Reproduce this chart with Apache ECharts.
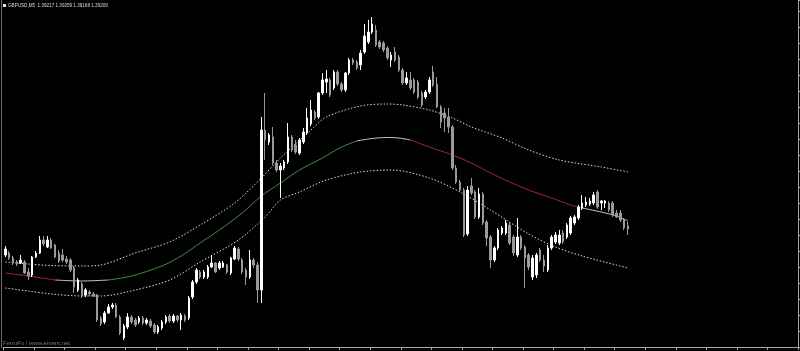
<!DOCTYPE html>
<html>
<head>
<meta charset="utf-8">
<script src="https://cdn.jsdelivr.net/npm/echarts@6/dist/echarts.min.js"></script>
<style>
html,body{margin:0;padding:0;background:#000;}
#chart{width:800px;height:351px;}
</style>
</head>
<body>
<div id="chart"></div>
<script>
// GBPUSD,M5 candles, levels (vertical chart units, 16 units = one price-scale step)
const barSlots = 208; // visible bar slots incl. empty right margin
const open  = [92,94,89,85,84,85,75,72,90,94,107,100,107,102,94,92,88,87,79,57,63,52,55,53,52,29,25,34,40,42,30,9,20,30,27,25,29,24,26,22,15,19,25,31,26,31,27,31,29,50,65,75,70,70,80,84,79,80,82,74,88,98,87,77,70,87,82,57,217,205,210,184,177,179,185,210,202,194,205,214,223,235,230,254,265,267,259,275,263,257,274,287,285,282,295,305,315,317,305,304,299,287,295,290,277,264,267,267,265,254,250,255,275,263,240,234,230,220,179,165,157,113,161,155,130,153,125,110,87,99,114,114,122,110,92,110,100,92,70,72,97,87,77,99,105,104,114,110,114,124,129,139,142,143,144,155,144,144,144,144,134,134,127,121];
const close = [98,89,84,83,87,74,71,90,94,107,103,107,99,90,86,87,85,77,60,67,51,57,53,51,27,23,34,40,42,30,14,21,30,25,22,29,24,27,21,15,20,25,30,26,31,27,32,27,49,65,77,70,75,80,84,75,84,84,75,89,99,88,75,70,87,82,57,217,207,212,184,177,181,185,210,197,195,207,215,229,237,229,254,267,268,252,275,263,257,274,287,284,279,294,311,315,323,302,300,297,289,292,287,277,264,269,259,255,250,242,255,267,262,240,225,229,220,179,165,157,112,157,154,130,153,124,109,87,99,117,119,124,104,94,110,99,89,80,89,92,87,81,99,110,112,112,105,122,129,130,140,144,145,146,152,140,146,146,137,132,130,127,119,118];
const low   = [90,87,82,81,83,73,67,70,89,93,101,99,98,89,84,85,83,75,54,55,49,50,51,50,25,21,23,33,38,29,12,7,18,23,20,23,22,22,19,13,13,17,23,24,24,25,17,25,27,48,63,68,68,68,79,74,77,79,73,72,87,86,73,62,68,79,44,44,187,202,182,175,149,177,183,195,193,192,203,212,221,227,228,252,254,250,257,261,255,255,272,282,277,277,293,303,313,300,298,295,287,280,285,275,262,262,257,253,248,240,248,253,260,239,219,215,214,177,163,155,110,111,152,128,128,122,101,79,85,97,112,112,102,91,90,97,59,77,67,69,85,75,75,97,103,102,103,108,112,122,127,137,140,141,142,138,137,139,135,130,129,125,117,112];
const high  = [101,96,91,87,92,87,79,91,96,111,111,111,109,103,97,98,91,89,81,69,65,59,57,55,53,31,36,43,44,44,32,23,34,32,29,31,31,29,28,24,22,27,32,33,33,32,34,33,51,67,79,77,77,82,92,85,86,86,83,90,101,100,89,79,97,89,85,230,254,214,220,187,184,187,224,212,207,209,219,239,247,237,255,274,277,269,277,277,265,275,289,289,287,297,323,327,330,322,307,306,301,295,300,292,279,275,275,269,267,256,257,270,281,270,242,239,239,222,182,167,159,161,169,157,159,155,127,112,101,119,121,127,125,112,129,112,102,94,92,94,99,92,102,112,115,117,117,124,131,132,142,152,150,149,155,157,147,147,146,146,137,137,129,125];

// moving average, coloured by slope state: [bar, level]
const maRedA   = [[0,74],[6,71],[13,67]];
const maGreyA  = [[13,67],[20,66],[27,67]];
const maGreen  = [[27,67],[33,71],[41,81],[46,91],[51,104],[56,117],[62,134],[67,151],[72,164],[77,177],[83,189],[88,200],[92,206]];
const maGreyB  = [[92,206],[96,208.5],[100,209.5],[103,209],[106,207]];
const maRedB   = [[106,207],[111,200],[117,192],[122,184],[127,174],[132,165],[137,157],[143,149],[148,142],[151,139]];
const maGreyC  = [[151,139],[156,135],[160,131],[163,126]];

// envelope bands: [bar, level]
const upperBand = [[0,85],[6,83],[12,81.5],[20,81],[25,82],[34,94],[43,105],[51,122],[60,144],[67,169],[72,189],[80,217],[84,230],[93,241],[100,243],[104,242],[111,237],[117,229],[122,220],[130,209],[137,197],[145,187],[156,180],[163,175]];
const lowerBand = [[0,59],[6,56],[12,53],[20,51],[25,51],[34,57],[43,67],[51,85],[61,107],[68,130],[72,147],[77,155],[84,167],[93,175],[101,177],[111,169],[119,155],[127,137],[137,113],[144,100],[151,91],[163,79]];

const titleText = 'GBPUSD,M5  1.39217 1.39259 1.39168 1.39209';
const footerText = 'FerruFx / www.ervent.net';

const categories = [];
for (let i = 0; i < barSlots; i++) categories.push(String(i));
const candles = open.map((o, i) => [o, close[i], low[i], high[i]]);

const maLine = (data, color) => ({
  type: 'line', data: data, smooth: 0.3, showSymbol: false, symbol: 'none',
  lineStyle: { color: color, width: 1 }, z: 3, silent: true
});
const bandLine = (data) => ({
  type: 'line', data: data, smooth: 0.3, showSymbol: false, symbol: 'none',
  lineStyle: { color: '#dcdcdc', width: 1, type: [1.5, 1.8] }, z: 3, silent: true
});

const chart = echarts.init(document.getElementById('chart'), null, { renderer: 'canvas' });
chart.setOption({
  animation: false,
  backgroundColor: '#000000',
  grid: { left: 3.5, right: 2, top: 0, bottom: 4 },
  xAxis: {
    type: 'category', data: categories, boundaryGap: true, offset: 1,
    axisLine: { show: true, lineStyle: { color: '#a8a8a8', width: 1 } },
    axisTick: { show: true, interval: 7, length: 3, lineStyle: { color: '#a8a8a8' } },
    axisLabel: { show: false }, splitLine: { show: false }
  },
  yAxis: {
    type: 'value', position: 'right', min: 0, max: 347, interval: 16,
    axisLine: { show: true, lineStyle: { color: '#a8a8a8', width: 1 } },
    axisTick: { show: true, length: 4, lineStyle: { color: '#a8a8a8' } },
    axisLabel: { show: false }, splitLine: { show: false }
  },
  graphic: [
    { type: 'line', shape: { x1: 1.5, y1: 0, x2: 1.5, y2: 348 }, style: { stroke: '#6a6a6a', lineWidth: 1 } },
    { type: 'rect', shape: { x: 3, y: 4, width: 3, height: 3 }, style: { fill: '#e0e0e0' } },
    { type: 'text', left: 8, top: 3.5, style: { text: titleText, fill: '#dcdcdc', font: '4.6px "Liberation Sans", sans-serif' } },
    { type: 'text', left: 3, top: 340, style: { text: footerText, fill: '#7a7a7a', font: '6px "Liberation Sans", sans-serif' } }
  ],
  series: [
    bandLine(upperBand),
    bandLine(lowerBand),
    maLine(maRedA, '#a3282c'),
    maLine(maGreyA, '#c8c8c8'),
    maLine(maGreen, '#3f8f45'),
    maLine(maGreyB, '#c8c8c8'),
    maLine(maRedB, '#a3282c'),
    maLine(maGreyC, '#c8c8c8'),
    {
      type: 'candlestick', data: candles, barWidth: 2, z: 4, silent: true,
      itemStyle: {
        color: '#ffffff', color0: '#9a9a9a',
        borderColor: '#ffffff', borderColor0: '#9a9a9a', borderWidth: 1
      }
    }
  ]
});
</script>
</body>
</html>
